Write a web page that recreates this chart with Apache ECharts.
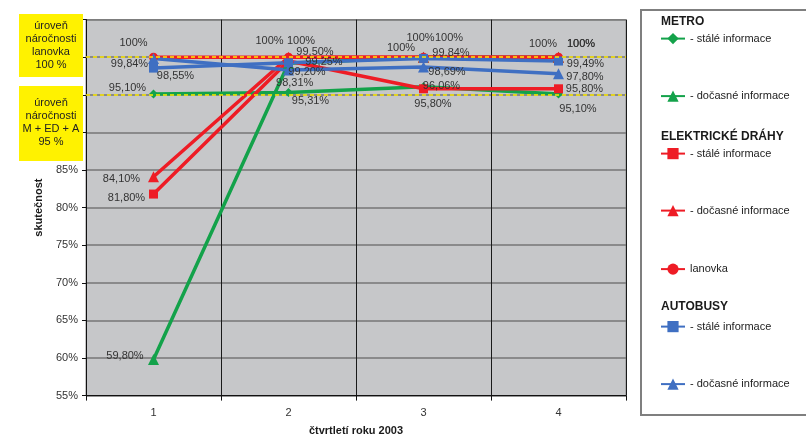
<!DOCTYPE html>
<html>
<head>
<meta charset="utf-8">
<script src="https://cdn.jsdelivr.net/npm/echarts@6/dist/echarts.min.js"></script>
<style>
  html, body { margin: 0; padding: 0; background: #fff; }
  #chart { width: 806px; height: 435px; }
</style>
</head>
<body>
<div id="chart"></div>
<script>
// Quarters of 2003
const quarters = ['1', '2', '3', '4'];

// Fulfilment (%) per quarter
const metroStale   = [95.10, 95.31, 96.06, 95.10];
const metroDocasne = [59.80, 99.20, 100, 100];
const edStale      = [81.80, 99.50, 95.80, 95.80];
const edDocasne    = [84.10, 100, 100, 100];
const lanovka      = [100, 100, 100, 100];
const busStale     = [98.55, 99.25, 99.84, 99.49];
const busDocasne   = [99.84, 98.31, 98.69, 97.80];

// Required levels
const levelLanovka = 100;
const levelOthers = 95;

// Value-axis range
const yMin = 55, yMax = 105, yStep = 5;

// Where each value label sits relative to its point [dx, dy]
const labelShift = {
  metroStale:   [[-26, -6], [22, 8.5], [18, -1], [19.5, 15.3]],
  metroDocasne: [[-28.5, -4], [18.5, 9.1], [25.5, -19.5], [22.5, -13]],
  edStale:      [[-27, 3.6], [26.5, -9.3], [9.5, 15], [26, 0.2]],
  edDocasne:    [[-32, 2.5], [12.5, -16], [-3, -19.5], [22.5, -13]],
  lanovka:      [[-20, -14.5], [-19, -16], [-22.5, -9.5], [-15.5, -13]],
  busStale:     [[22, 8], [35.5, -1.1], [27.5, -5.7], [27, 3.3]],
  busDocasne:   [[-24, 5.6], [6.2, 13.4], [23.5, 5], [26.5, 3.6]]
};

const FONT = 'Liberation Sans, Arial, sans-serif';
const GREEN = '#13a24a', RED = '#ee1c25', BLUE = '#3f6fc2';

function fmt(v) {
  return v === 100 ? '100%' : v.toFixed(2).replace('.', ',') + '%';
}

function makeSeries(name, values, color, symbol, size, shifts) {
  return {
    type: 'line',
    name: name,
    data: values,
    symbol: symbol,
    symbolSize: size,
    showAllSymbol: true,
    lineStyle: { color: color, width: 3.5 },
    itemStyle: { color: color },
    label: {
      show: true,
      position: 'inside',
      formatter: p => fmt(p.value),
      color: '#333',
      fontSize: 11,
      fontFamily: FONT,
      textBorderWidth: 0
    },
    labelLayout: p => ({
      dx: shifts[p.dataIndex][0],
      dy: shifts[p.dataIndex][1],
      hideOverlap: false
    }),
    emphasis: { disabled: true },
    silent: true,
    animation: false
  };
}

const series = [
  makeSeries('metroStale', metroStale, GREEN, 'diamond', 9, labelShift.metroStale),
  makeSeries('metroDocasne', metroDocasne, GREEN, 'triangle', 11, labelShift.metroDocasne),
  makeSeries('edStale', edStale, RED, 'rect', 9, labelShift.edStale),
  makeSeries('edDocasne', edDocasne, RED, 'triangle', 11, labelShift.edDocasne),
  makeSeries('lanovka', lanovka, RED, 'circle', 9, labelShift.lanovka),
  makeSeries('busStale', busStale, BLUE, 'rect', 9, labelShift.busStale),
  makeSeries('busDocasne', busDocasne, BLUE, 'triangle', 11, labelShift.busDocasne)
];

// Dashed required-level lines
series[0].markLine = {
  silent: true,
  symbol: 'none',
  label: { show: false },
  lineStyle: { color: '#ffec00', type: [4, 3], width: 1.5 },
  data: [{ yAxis: levelLanovka }, { yAxis: levelOthers }],
  animation: false
};

const legendText = {
  metroStale: '- stálé informace',
  metroDocasne: '- dočasné informace',
  edStale: '- stálé informace',
  edDocasne: '- dočasné informace',
  lanovka: 'lanovka',
  busStale: '- stálé informace',
  busDocasne: '- dočasné informace'
};
const legendRows = [
  ['metroStale', 40], ['metroDocasne', 97.5], ['edStale', 155], ['edDocasne', 212],
  ['lanovka', 270.5], ['busStale', 328], ['busDocasne', 385.5]
];

const legends = legendRows.map(([key, y]) => ({
  left: 660,
  top: y - 7,
  itemWidth: 24,
  itemHeight: 14,
  padding: 0,
  selectedMode: false,
  data: [key],
  formatter: () => legendText[key],
  textStyle: { fontSize: 11, color: '#222', fontFamily: FONT }
}));

function boxText(x, y, text) {
  return {
    type: 'text', x: x, y: y, z: 101,
    style: {
      text: text, align: 'center', verticalAlign: 'middle',
      font: '11px ' + FONT, lineHeight: 13.3, fill: '#222'
    }
  };
}
function heading(y, text) {
  return {
    type: 'text', x: 661, y: y, z: 10,
    style: { text: text, verticalAlign: 'middle', font: 'bold 12px ' + FONT, fill: '#1a1a1a' }
  };
}

const option = {
  backgroundColor: '#fff',
  animation: false,
  grid: {
    left: 86, right: 180, top: 19.6, bottom: 39.4,
    outerBoundsMode: 'none',
    containLabel: false,
    show: true, backgroundColor: '#c6c7c9', borderColor: '#8c8c8c', borderWidth: 1
  },
  xAxis: {
    type: 'category',
    data: quarters,
    boundaryGap: true,
    name: 'čtvrtletí roku 2003',
    nameLocation: 'middle',
    nameGap: 30,
    nameTextStyle: { fontWeight: 'bold', fontSize: 11, color: '#1a1a1a', fontFamily: FONT },
    axisLine: { lineStyle: { color: '#111', width: 1 } },
    axisTick: { show: true, length: 5, lineStyle: { color: '#111' } },
    axisLabel: { margin: 12, fontSize: 11, color: '#333', fontFamily: FONT },
    splitLine: { show: true, lineStyle: { color: '#1a1a1a', width: 1 } }
  },
  yAxis: {
    type: 'value',
    min: yMin, max: yMax, interval: yStep,
    name: 'skutečnost',
    nameLocation: 'middle',
    nameRotate: 90,
    nameGap: 42,
    nameMoveOverlap: false,
    nameTextStyle: { fontWeight: 'bold', fontSize: 11, color: '#1a1a1a', fontFamily: FONT },
    axisLine: { show: true, lineStyle: { color: '#111', width: 1 } },
    axisTick: { show: true, length: 4, lineStyle: { color: '#111' } },
    axisLabel: {
      margin: 8, fontSize: 11, color: '#333', fontFamily: FONT,
      formatter: v => (v > 100 ? '' : v + '%')
    },
    splitLine: { show: true, lineStyle: { color: '#767676', width: 1.5 } }
  },
  legend: legends,
  graphic: [
    // legend frame
    { type: 'rect', z: 0, shape: { x: 641, y: 10, width: 200, height: 405 },
      style: { fill: '#fff', stroke: '#7f7f7f', lineWidth: 2 } },
    heading(22, 'METRO'),
    heading(137, 'ELEKTRICKÉ DRÁHY'),
    heading(307, 'AUTOBUSY'),
    // required-level notes
    { type: 'rect', z: 100, shape: { x: 19, y: 14, width: 64, height: 63 }, style: { fill: '#fff200' } },
    boxText(51, 45.5, 'úroveň\nnáročnosti\nlanovka\n100 %'),
    { type: 'rect', z: 100, shape: { x: 19, y: 86, width: 64, height: 75 }, style: { fill: '#fff200' } },
    boxText(51, 122.5, 'úroveň\nnáročnosti\nM + ED + A\n95 %')
  ],
  series: series
};

const chart = echarts.init(document.getElementById('chart'), null, { renderer: 'canvas' });
chart.setOption(option);
</script>
</body>
</html>
